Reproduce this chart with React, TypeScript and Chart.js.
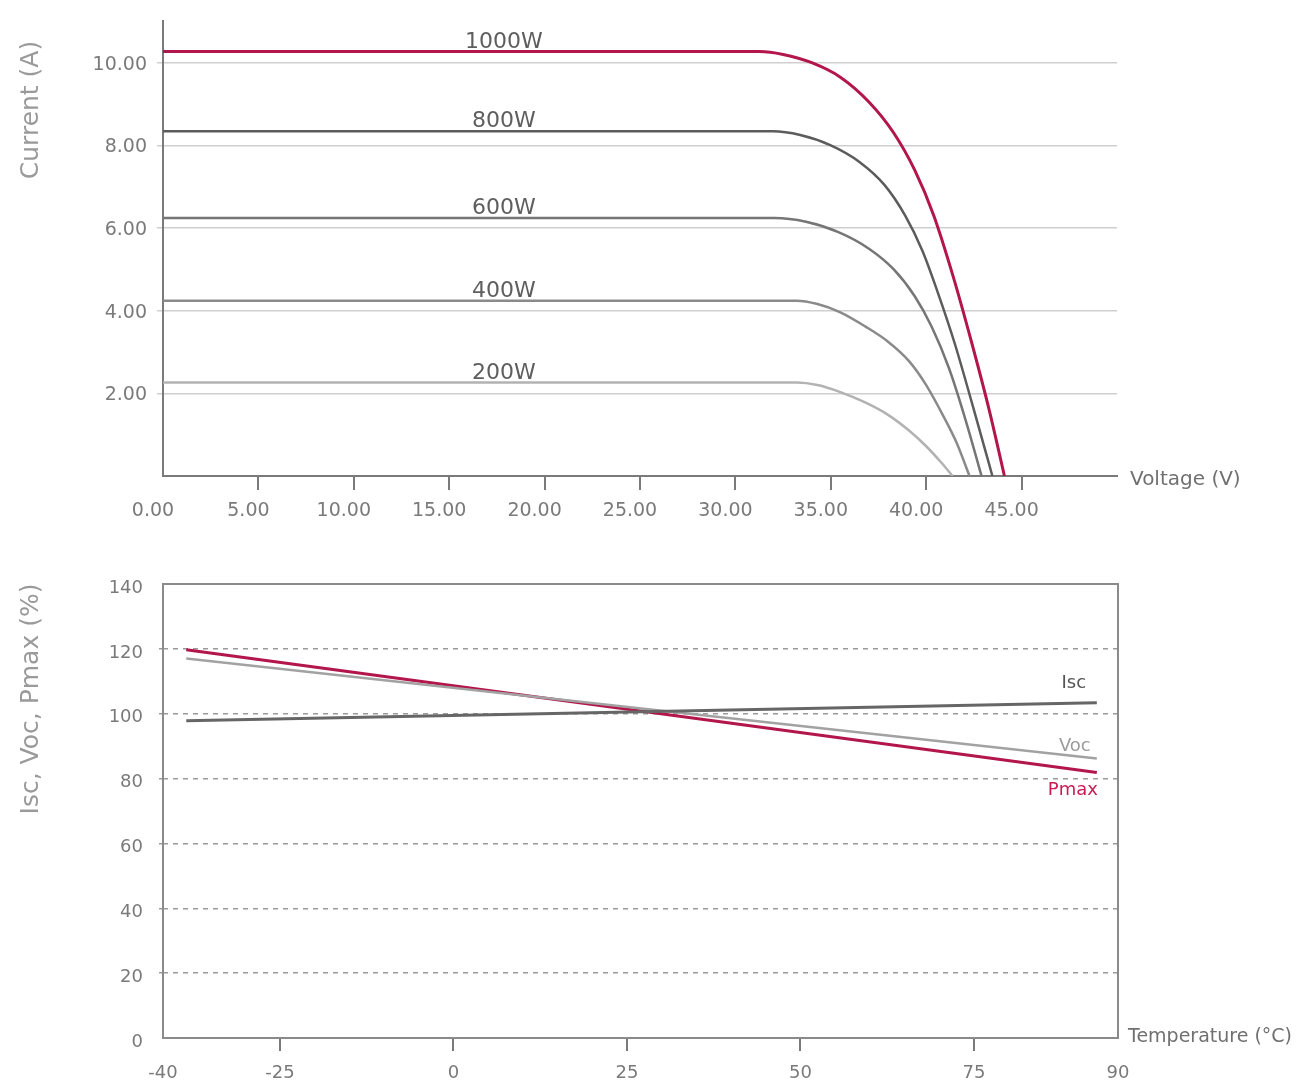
import React, { useEffect, useRef } from 'react';
import { Chart, registerables } from 'chart.js';

Chart.register(...registerables);

const FONT = "'DejaVu Sans', Verdana, sans-serif";

// ---- I-V curves (Voltage V, Current A) ----
const irradianceLabels = ['1000W', '800W', '600W', '400W', '200W'];
const v1000 = [0, 31.26, 32.5, 34.0, 35.5, 37.0, 38.3, 39.4, 40.4, 41.4, 42.4, 43.3, 44.1];
const i1000 = [10.27, 10.27, 10.2, 10.0, 9.65, 9.05, 8.3, 7.4, 6.3, 4.85, 3.2, 1.6, 0];
const v800 = [0, 31.95, 33.4, 35.0, 36.5, 37.8, 38.9, 39.8, 40.6, 41.5, 42.5, 43.47];
const i800 = [8.34, 8.34, 8.25, 8.0, 7.6, 7.05, 6.3, 5.45, 4.45, 3.2, 1.6, 0];
const v600 = [0, 32.05, 33.7, 35.4, 37.0, 38.3, 39.4, 40.3, 41.2, 42.1, 42.9];
const i600 = [6.24, 6.24, 6.15, 5.9, 5.5, 5.0, 4.35, 3.6, 2.6, 1.3, 0];
const v400 = [0, 33.2, 34.3, 35.5, 36.8, 38.0, 39.1, 40.0, 40.9, 41.6, 42.27];
const i400 = [4.24, 4.24, 4.16, 3.96, 3.62, 3.25, 2.78, 2.2, 1.45, 0.8, 0];
const v200 = [0, 33.2, 34.3, 35.5, 36.8, 38.0, 39.1, 40.0, 40.8, 41.38];
const i200 = [2.26, 2.26, 2.2, 2.03, 1.78, 1.48, 1.1, 0.72, 0.32, 0];
const voltageTicks = [0, 5, 10, 15, 20, 25, 30, 35, 40, 45];
const currentTicks = [2, 4, 6, 8, 10];
const curveLabelVoltage = 17.87;

// ---- Temperature characteristics (%) ----
const tempAxisLabels = ['-40', '-25', '0', '25', '50', '75', '90'];
const tempInnerTicks = [-25, 0, 25, 50, 75];
const tempPoints = [-38.5, 92.7];
const iscValues = [97.8, 103.4];
const vocValues = [117.0, 86.2];
const pmaxValues = [119.7, 81.9];
const percentTicks = [0, 20, 40, 60, 80, 100, 120, 140];
const tempSeriesLabels = ['Isc', 'Voc', 'Pmax'];

const CRIMSON = '#b3164a';

const zip = (xs: number[], ys: number[]) => xs.map((x, k) => ({ x, y: ys[k] }));

const ivSeries = [
  { label: irradianceLabels[0], v: v1000, i: i1000, color: CRIMSON, width: 3 },
  { label: irradianceLabels[1], v: v800, i: i800, color: '#5c5c5c', width: 2.5 },
  { label: irradianceLabels[2], v: v600, i: i600, color: '#767676', width: 2.5 },
  { label: irradianceLabels[3], v: v400, i: i400, color: '#8a8a8a', width: 2.5 },
  { label: irradianceLabels[4], v: v200, i: i200, color: '#b2b2b2', width: 2.5 },
];

export default function App() {
  const ref1 = useRef<HTMLCanvasElement>(null);
  const ref2 = useRef<HTMLCanvasElement>(null);

  useEffect(() => {
    const ivPlugin = {
      id: 'ivText',
      afterDraw(chart: any) {
        const ctx = chart.ctx;
        const xs = chart.scales.x;
        const ys = chart.scales.y;
        ctx.save();
        ctx.font = `25px ${FONT}`;
        ctx.fillStyle = '#9a9a9a';
        ctx.textAlign = 'center';
        ctx.textBaseline = 'middle';
        ctx.translate(31, 110);
        ctx.rotate(-Math.PI / 2);
        ctx.fillText('Current (A)', 0, 0);
        ctx.restore();
        ctx.save();
        ctx.font = `20px ${FONT}`;
        ctx.fillStyle = '#707070';
        ctx.textAlign = 'left';
        ctx.textBaseline = 'middle';
        ctx.fillText('Voltage (V)', xs.right + 13, ys.bottom + 4);
        ctx.font = `22px ${FONT}`;
        ctx.fillStyle = '#5e5e5e';
        ctx.textAlign = 'center';
        ctx.textBaseline = 'alphabetic';
        ivSeries.forEach((s) => {
          ctx.fillText(s.label, xs.getPixelForValue(curveLabelVoltage), ys.getPixelForValue(s.i[0]) - 4);
        });
        ctx.restore();
      },
    };

    const c1 = new Chart(ref1.current!, {
      type: 'line',
      data: {
        datasets: ivSeries.map((s) => ({
          label: s.label,
          data: zip(s.v, s.i),
          borderColor: s.color,
          borderWidth: s.width,
          pointRadius: 0,
          fill: false,
          cubicInterpolationMode: 'monotone' as const,
        })),
      },
      options: {
        responsive: false,
        animation: false,
        layout: { padding: { top: 21, right: 183, left: 0, bottom: 0 } },
        plugins: { legend: { display: false }, tooltip: { enabled: false } },
        scales: {
          x: {
            type: 'linear',
            min: 0,
            max: 50,
            afterBuildTicks: (scale: any) => {
              scale.ticks = voltageTicks.map((v) => ({ value: v }));
            },
            afterFit: (scale: any) => {
              scale.height = 64;
            },
            grid: {
              drawOnChartArea: false,
              tickLength: 14,
              lineWidth: 2,
              color: (ctx: any) => (ctx.index === 0 ? 'rgba(0,0,0,0)' : '#7a7a7a'),
            },
            border: { display: true, color: '#7a7a7a', width: 2 },
            ticks: {
              padding: 10,
              labelOffset: -10,
              maxRotation: 0,
              autoSkip: false,
              color: '#7a7a7a',
              font: { family: FONT, size: 19 },
              callback: (v: any) => Number(v).toFixed(2),
            },
          },
          y: {
            type: 'linear',
            min: 0,
            max: 11,
            afterBuildTicks: (scale: any) => {
              scale.ticks = currentTicks.map((v) => ({ value: v }));
            },
            afterFit: (scale: any) => {
              scale.width = 163;
            },
            grid: { color: '#cfcfcf', lineWidth: 1.5, tickLength: 6 },
            border: { display: true, color: '#7a7a7a', width: 2 },
            ticks: {
              padding: 10,
              labelOffset: 2,
              color: '#7a7a7a',
              font: { family: FONT, size: 19 },
              callback: (v: any) => Number(v).toFixed(2),
            },
          },
        },
      },
      plugins: [ivPlugin],
    } as any);

    const tMin = -41.85;
    const tMax = 95.75;

    const tempPlugin = {
      id: 'tempText',
      beforeDatasetsDraw(chart: any) {
        const ctx = chart.ctx;
        const a = chart.chartArea;
        ctx.save();
        ctx.strokeStyle = '#8a8a8a';
        ctx.lineWidth = 2;
        ctx.strokeRect(a.left, a.top, a.right - a.left, a.bottom - a.top);
        ctx.restore();
      },
      afterDraw(chart: any) {
        const ctx = chart.ctx;
        const xs = chart.scales.x;
        const ys = chart.scales.y;
        ctx.save();
        ctx.font = `25px ${FONT}`;
        ctx.fillStyle = '#9a9a9a';
        ctx.textAlign = 'center';
        ctx.textBaseline = 'middle';
        ctx.translate(31, 159);
        ctx.rotate(-Math.PI / 2);
        ctx.fillText('Isc, Voc, Pmax (%)', 0, 0);
        ctx.restore();
        ctx.save();
        ctx.font = `19px ${FONT}`;
        ctx.fillStyle = '#707070';
        ctx.textAlign = 'left';
        ctx.textBaseline = 'middle';
        ctx.fillText('Temperature (°C)', xs.right + 10, ys.bottom - 1);
        const xEnd = xs.getPixelForValue(tempPoints[1]);
        ctx.font = `18px ${FONT}`;
        ctx.textAlign = 'center';
        ctx.fillStyle = '#555555';
        ctx.fillText(tempSeriesLabels[0], xEnd - 23, ys.getPixelForValue(iscValues[1]) - 19);
        ctx.fillStyle = '#9c9c9c';
        ctx.fillText(tempSeriesLabels[1], xEnd - 22, ys.getPixelForValue(vocValues[1]) - 12);
        ctx.fillStyle = '#cc1a52';
        ctx.fillText(tempSeriesLabels[2], xEnd - 24, ys.getPixelForValue(pmaxValues[1]) + 18);
        ctx.restore();
      },
    };

    const c2 = new Chart(ref2.current!, {
      type: 'line',
      data: {
        datasets: [
          { label: 'Isc', data: zip(tempPoints, iscValues), borderColor: '#666666', borderWidth: 3, pointRadius: 0 },
          { label: 'Voc', data: zip(tempPoints, vocValues), borderColor: '#a2a2a2', borderWidth: 2.5, pointRadius: 0 },
          { label: 'Pmax', data: zip(tempPoints, pmaxValues), borderColor: CRIMSON, borderWidth: 3, pointRadius: 0 },
        ],
      },
      options: {
        responsive: false,
        animation: false,
        layout: { padding: { top: 44, right: 182, left: 0, bottom: 0 } },
        plugins: { legend: { display: false }, tooltip: { enabled: false } },
        scales: {
          x: {
            type: 'linear',
            min: tMin,
            max: tMax,
            afterBuildTicks: (scale: any) => {
              scale.ticks = [tMin, ...tempInnerTicks, tMax].map((v) => ({ value: v }));
            },
            afterFit: (scale: any) => {
              scale.height = 44;
            },
            grid: {
              drawOnChartArea: false,
              tickLength: 13,
              lineWidth: 2,
              color: (ctx: any) =>
                ctx.index === 0 || ctx.index === tempInnerTicks.length + 1 ? 'rgba(0,0,0,0)' : '#7a7a7a',
            },
            border: { display: false },
            ticks: {
              padding: 12,
              maxRotation: 0,
              autoSkip: false,
              color: '#7a7a7a',
              font: { family: FONT, size: 18 },
              callback: (_v: any, index: number) => tempAxisLabels[index],
            },
          },
          y: {
            type: 'linear',
            min: 0,
            max: 140,
            afterBuildTicks: (scale: any) => {
              scale.ticks = percentTicks.map((v) => ({ value: v }));
            },
            afterFit: (scale: any) => {
              scale.width = 163;
            },
            grid: {
              tickLength: 4,
              lineWidth: 1.5,
              color: (ctx: any) =>
                ctx.tick && (ctx.tick.value === 0 || ctx.tick.value === 140) ? 'rgba(0,0,0,0)' : '#9a9a9a',
            },
            border: { display: false, dash: [5, 5] },
            ticks: {
              padding: 16,
              labelOffset: 4,
              color: '#7a7a7a',
              font: { family: FONT, size: 18 },
            },
          },
        },
      },
      plugins: [tempPlugin],
    } as any);

    return () => {
      c1.destroy();
      c2.destroy();
    };
  }, []);

  return (
    <div style={{ position: 'absolute', left: 0, top: 0, width: 1300, height: 1082, background: '#ffffff' }}>
      <canvas
        ref={ref1}
        width={1300}
        height={540}
        style={{ position: 'absolute', left: 0, top: 0, width: 1300, height: 540 }}
      />
      <canvas
        ref={ref2}
        width={1300}
        height={542}
        style={{ position: 'absolute', left: 0, top: 540, width: 1300, height: 542 }}
      />
    </div>
  );
}
